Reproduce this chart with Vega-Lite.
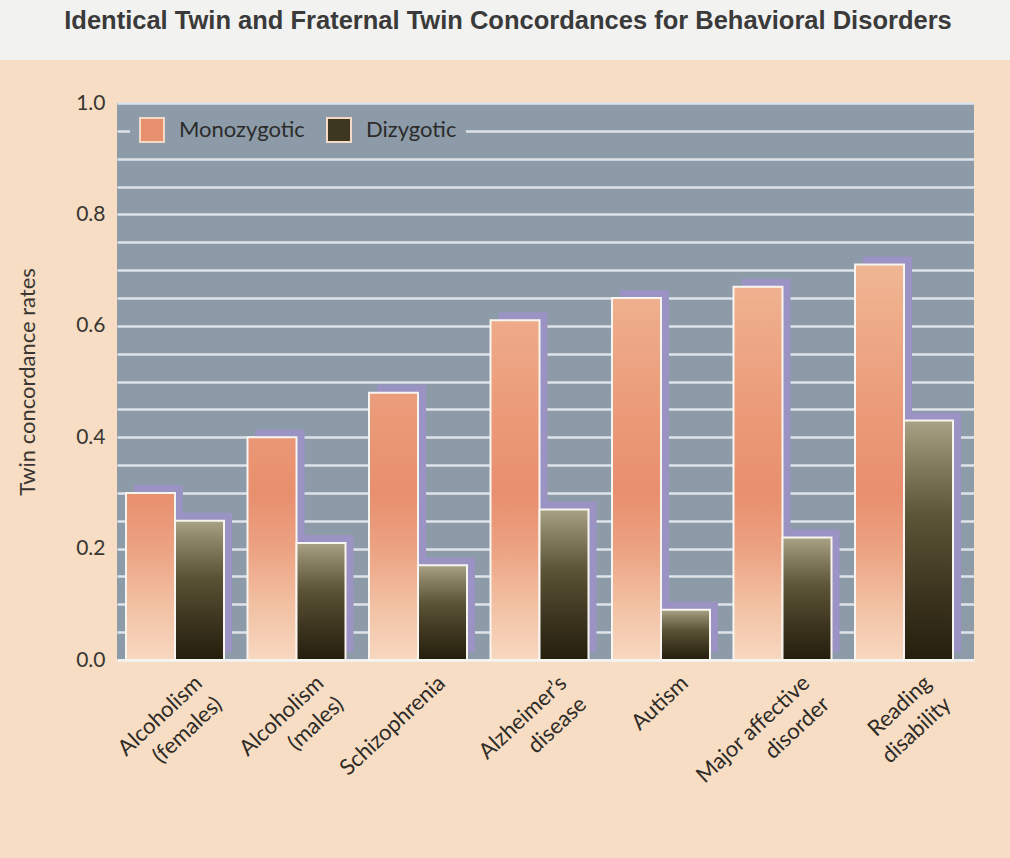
{
  "$schema": "https://vega.github.io/schema/vega-lite/v6.json",
  "background": "#f6ddc3",
  "padding": 0,
  "bounds": "flush",
  "spacing": 43,
  "config": {
    "view": {"stroke": null},
    "font": "Lato"
  },
  "vconcat": [
    {
      "width": 1010,
      "height": 60,
      "view": {"fill": "#f2f2f1", "stroke": null},
      "data": {"values": [{}]},
      "mark": {"type": "text"},
      "title": {
        "text": "Identical Twin and Fraternal Twin Concordances for Behavioral Disorders",
        "anchor": "middle",
        "orient": "top",
        "frame": "group",
        "offset": -59,
        "baseline": "bottom",
        "font": "Liberation Sans",
        "fontSize": 25.5,
        "fontWeight": "bold",
        "color": "#3a3a3a",
        "dx": 3
      }
    },
    {
      "bounds": "flush",
      "spacing": 0,
      "hconcat": [
        {
          "width": 117,
          "height": 755,
          "view": {"stroke": null},
          "data": {"values": [{}]},
          "mark": {"type": "text"}
        },
        {
          "width": 857,
          "height": 557,
          "view": {"fill": "#8c9ba7", "stroke": null},
          "data": {
            "values": [
              {"disorder": "Alcoholism (females)", "type": "Monozygotic", "rate": 0.30},
              {"disorder": "Alcoholism (females)", "type": "Dizygotic", "rate": 0.25},
              {"disorder": "Alcoholism (males)", "type": "Monozygotic", "rate": 0.40},
              {"disorder": "Alcoholism (males)", "type": "Dizygotic", "rate": 0.21},
              {"disorder": "Schizophrenia", "type": "Monozygotic", "rate": 0.48},
              {"disorder": "Schizophrenia", "type": "Dizygotic", "rate": 0.17},
              {"disorder": "Alzheimer’s disease", "type": "Monozygotic", "rate": 0.61},
              {"disorder": "Alzheimer’s disease", "type": "Dizygotic", "rate": 0.27},
              {"disorder": "Autism", "type": "Monozygotic", "rate": 0.65},
              {"disorder": "Autism", "type": "Dizygotic", "rate": 0.09},
              {"disorder": "Major affective disorder", "type": "Monozygotic", "rate": 0.67},
              {"disorder": "Major affective disorder", "type": "Dizygotic", "rate": 0.22},
              {"disorder": "Reading disability", "type": "Monozygotic", "rate": 0.71},
              {"disorder": "Reading disability", "type": "Dizygotic", "rate": 0.43}
            ]
          },
          "encoding": {
            "x": {
              "field": "disorder",
              "type": "nominal",
              "sort": null,
              "title": null,
              "scale": {"paddingInner": 0.1934, "paddingOuter": 0.1235, "align": 0.3},
              "axis": {
                "labelAngle": -43,
                "labelAlign": "right",
                "labelBaseline": "top",
                "labelPadding": 12,
                "labelOffset": 17,
                "labelFont": "Lato",
                "labelFontSize": 22,
                "labelLineHeight": 29,
                "labelColor": "#2e2a26",
                "labelLimit": 0,
                "labelOverlap": false,
                "ticks": false,
                "domainColor": "#f2f0ee",
                "domainWidth": 3,
                "labelExpr": "datum.label == 'Major affective disorder' ? ['Major affective', 'disorder'] : split(datum.label, ' ')"
              }
            },
            "y": {
              "field": "rate",
              "type": "quantitative",
              "title": "Twin concordance rates",
              "scale": {"domain": [0, 1], "nice": false},
              "axis": {
                "values": [0, 0.05, 0.1, 0.15, 0.2, 0.25, 0.3, 0.35, 0.4, 0.45, 0.5, 0.55, 0.6, 0.65, 0.7, 0.75, 0.8, 0.85, 0.9, 0.95, 1.0],
                "labelExpr": "round(datum.value * 20) % 4 == 0 ? format(datum.value, '.1f') : ''",
                "labelOverlap": false,
                "grid": true,
                "gridColor": "#dfe3ea",
                "gridWidth": 2.5,
                "domain": false,
                "ticks": false,
                "labelPadding": 12,
                "labelFont": "Lato",
                "labelFontSize": 21,
                "labelColor": "#3a3632",
                "titleFont": "Lato",
                "titleFontSize": 22,
                "titleFontWeight": "normal",
                "titleColor": "#3a3632",
                "titlePadding": 36
              }
            }
          },
          "layer": [
            {
              "mark": {"type": "bar"},
              "encoding": {
                "xOffset": {"field": "type", "type": "nominal", "sort": ["Monozygotic", "Dizygotic"]},
                "color": {
                  "field": "type",
                  "type": "nominal",
                  "scale": {"domain": ["Monozygotic", "Dizygotic"], "range": ["#e8916f", "#3d3620"]},
                  "legend": {
                    "title": null,
                    "orient": "none",
                    "legendX": 130,
                    "legendY": 108,
                    "direction": "horizontal",
                    "fillColor": "#8c9ba7",
                    "padding": 9,
                    "symbolType": "square",
                    "symbolSize": 576,
                    "symbolStrokeColor": "#f3d9c6",
                    "symbolStrokeWidth": 2,
                    "symbolOpacity": 1,
                    "labelFont": "Lato",
                    "labelFontSize": 22,
                    "labelColor": "#2b2b2b",
                    "labelOffset": 14,
                    "columnPadding": 18
                  }
                }
              }
            },
            {
              "transform": [{"filter": "datum.type == 'Monozygotic'"}],
              "mark": {"type": "bar", "width": {"band": 0.5}, "xOffset": -16.5, "yOffset": -8, "color": "#9a93c3"}
            },
            {
              "transform": [{"filter": "datum.type == 'Dizygotic'"}],
              "mark": {"type": "bar", "width": {"band": 0.5}, "xOffset": 32.5, "yOffset": -8, "color": "#9a93c3"}
            },
            {
              "mark": {
                "type": "bar",
                "stroke": "#f8f4f0",
                "strokeWidth": 2,
                "fill": {"expr": "datum.type === 'Monozygotic' ? {gradient: 'linear', x1: 0, x2: 0, y1: (datum.rate - 0.72) / datum.rate, y2: 1, stops: [{offset: 0, color: '#f0b896'}, {offset: 0.167, color: '#eeaa88'}, {offset: 0.375, color: '#eb9b79'}, {offset: 0.583, color: '#e88f6e'}, {offset: 0.722, color: '#eca282'}, {offset: 0.861, color: '#f2c0a2'}, {offset: 1, color: '#f7d8c0'}]} : {gradient: 'linear', x1: 0, x2: 0, y1: 0, y2: 1, stops: [{offset: 0, color: '#aaa286'}, {offset: 0.15, color: '#8a8264'}, {offset: 0.4, color: '#5c5436'}, {offset: 0.7, color: '#3e3620'}, {offset: 1, color: '#241e0c'}]}"}
              },
              "encoding": {
                "xOffset": {"field": "type", "type": "nominal", "sort": ["Monozygotic", "Dizygotic"]}
              }
            }
          ]
        }
      ]
    }
  ]
}
